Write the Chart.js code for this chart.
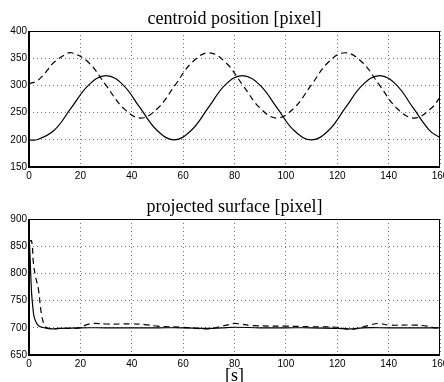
<!DOCTYPE html>
<html>
<head>
<meta charset="utf-8">
<script src="https://cdn.jsdelivr.net/npm/chart.js@4.4.0/dist/chart.umd.min.js"></script>
<style>
  body { margin: 0; background: #fff; }
  .box { position: absolute; left: 0; width: 444px; }
</style>
</head>
<body>
<div class="box" style="top:0"><canvas id="top" width="444" height="190"></canvas></div>
<div class="box" style="top:190px"><canvas id="bottom" width="444" height="192"></canvas></div>
<script>
// centroid position, solid line
var posSolidT = [0, 3, 9.7, 16.5, 23.3, 30, 36.6, 43.2, 49.9, 56.5, 63.1, 69.8, 76.4, 83, 89.8, 96.5, 103.2, 110, 116.6, 123.2, 129.9, 136.5, 143, 149.5, 156, 160];
var posSolidV = [200, 200, 217, 259, 301, 318, 301, 259, 217, 200, 217, 259, 301, 318, 301, 259, 217, 200, 217, 259, 301, 318, 301, 259, 217, 204];
// centroid position, dashed line
var posDashT = [0, 1.5, 3, 5, 7, 9, 11, 13.5, 16.5, 23.2, 30, 36.8, 43.5, 50.1, 56.8, 63.4, 70, 76.6, 83.3, 90, 96.5, 103.1, 109.8, 116.4, 123, 129.8, 136.5, 143.2, 150, 156.6, 160];
var posDashV = [303, 305, 308, 316, 327, 339, 347, 355, 360, 342, 300, 258, 240, 258, 300, 342, 360, 342, 300, 258, 240, 258, 300, 342, 360, 342, 300, 258, 240, 258, 278];
// projected surface, solid line
var surfSolidT = [0, 0.5, 1, 1.5, 2, 3, 4, 5, 7, 9, 12, 20, 30, 40, 50, 60, 70, 75, 80, 90, 100, 110, 120, 125, 130, 140, 150, 160];
var surfSolidV = [880, 820, 765, 738, 720, 708, 703, 701, 699, 698, 699, 700, 700, 700, 700, 700, 699, 700, 701, 700, 700, 700, 699, 698, 700, 700, 700, 700];
// projected surface, dashed line
var surfDashT = [0, 1, 1.7, 2.5, 3.6, 4.9, 6.2, 7.5, 9, 12, 20, 22, 25, 30, 40, 45, 50, 60, 70, 74, 78, 80, 82, 87, 100, 110, 120, 125, 128, 132, 136, 140, 150, 155, 158, 160];
var surfDashV = [858, 860, 820, 795, 773, 724, 703, 699, 698, 699, 700, 705, 708, 707, 707, 706, 703, 701, 698, 702, 706, 708, 707, 704, 703, 702, 701, 697, 699, 704, 708, 705, 705, 703, 700, 700];
var xTicks = [0, 20, 40, 60, 80, 100, 120, 140, 160];

function pts(t, v) {
  return t.map(function(x, i) { return { x: x, y: v[i] }; });
}

var frame = {
  id: 'frame',
  afterDraw: function(chart) {
    var a = chart.chartArea, ctx = chart.ctx;
    ctx.save();
    ctx.strokeStyle = '#000';
    ctx.lineWidth = 1;
    ctx.strokeRect(a.left + 0.5, a.top + 0.5, a.right - a.left - 1, a.bottom - a.top - 1);
    ctx.lineWidth = 2;
    ctx.beginPath();
    ctx.moveTo(a.left, a.top);
    ctx.lineTo(a.left, a.bottom);
    ctx.lineTo(a.right, a.bottom);
    ctx.stroke();
    ctx.restore();
  }
};

function makeChart(id, title, solid, dashed, ymin, ymax, padTop, xTitle) {
  return new Chart(document.getElementById(id), {
    type: 'line',
    data: {
      datasets: [
        { data: solid, borderColor: '#000', borderWidth: 1.2, pointRadius: 0, tension: 0.4, fill: false },
        { data: dashed, borderColor: '#000', borderWidth: 1.2, borderDash: [6, 4], pointRadius: 0, tension: 0.4, fill: false }
      ]
    },
    options: {
      responsive: false,
      animation: false,
      devicePixelRatio: 1,
      layout: { padding: { left: 0, right: 4, top: 0, bottom: 0 } },
      plugins: {
        legend: { display: false },
        tooltip: { enabled: false },
        title: {
          display: true, text: title, color: '#000', fullSize: false,
          font: { family: 'Liberation Serif', size: 18, weight: 'normal' },
          padding: { top: padTop, bottom: 1.4 }
        }
      },
      scales: {
        x: {
          type: 'linear', min: 0, max: 160,
          afterBuildTicks: function(s) { s.ticks = xTicks.map(function(v) { return { value: v }; }); },
          afterFit: function(s) { s.height = xTitle ? 27 : 23; s.paddingLeft = 0; s.paddingRight = 0; },
          ticks: { color: '#000', font: { family: 'Liberation Sans', size: 10 }, padding: 3, maxRotation: 0, autoSkip: false },
          grid: { color: '#777', drawTicks: false },
          border: { display: false, dash: [1, 3] },
          title: xTitle ? { display: true, text: xTitle, color: '#000', font: { family: 'Liberation Serif', size: 18 }, padding: { top: 0, bottom: -5 } } : { display: false }
        },
        y: {
          min: ymin, max: ymax,
          ticks: { stepSize: 50, color: '#000', font: { family: 'Liberation Sans', size: 10 }, padding: 2 },
          afterFit: function(s) { s.width = 29; },
          grid: { color: '#777', drawTicks: false },
          border: { display: false, dash: [1, 3] }
        }
      }
    },
    plugins: [frame]
  });
}

makeChart('top', 'centroid position [pixel]', pts(posSolidT, posSolidV), pts(posDashT, posDashV), 150, 400, 8, null);
makeChart('bottom', 'projected surface [pixel]', pts(surfSolidT, surfSolidV), pts(surfDashT, surfDashV), 650, 900, 6, '[s]');
</script>
</body>
</html>
